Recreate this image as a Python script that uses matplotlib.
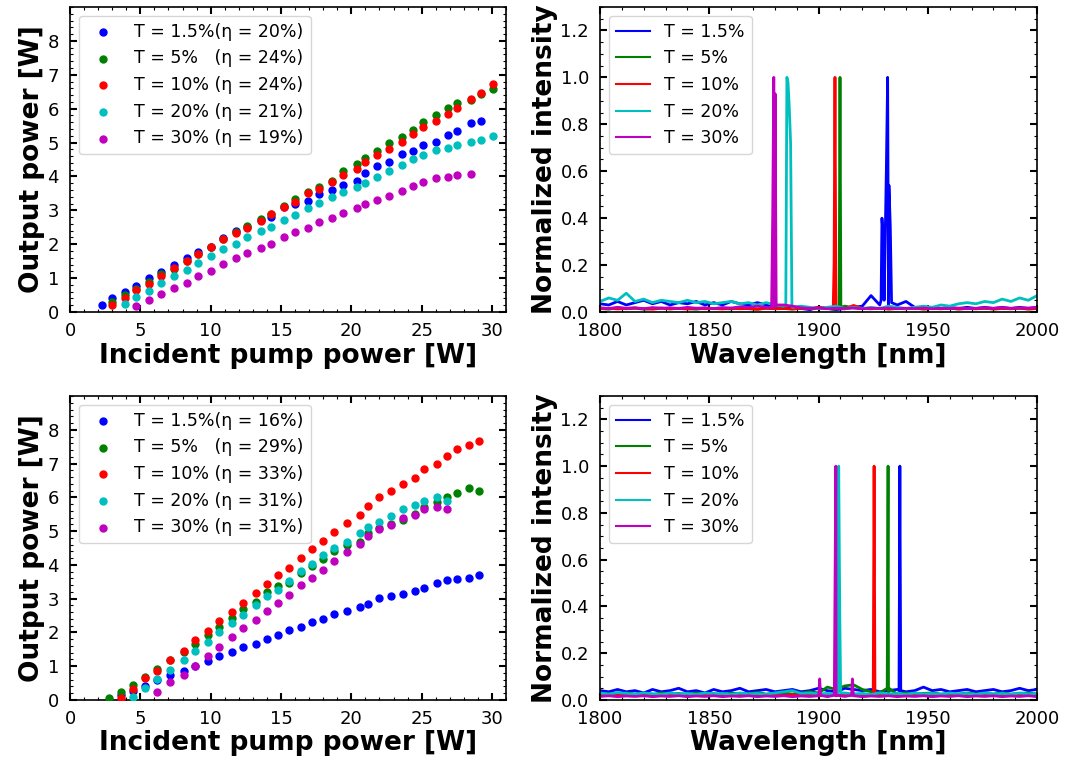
import numpy as np
import matplotlib
matplotlib.use('Agg')
import matplotlib.pyplot as plt

# ---------------- data: output power vs incident pump power ----------------
pump_top = [2.3, 3.0, 3.9, 4.7, 5.6, 6.5, 7.4, 8.3, 9.1, 10.0, 10.9, 11.8, 12.6, 13.6,
            14.3, 15.2, 16.0, 16.9, 17.7, 18.6, 19.4, 20.4, 21.0, 21.8, 22.7, 23.6,
            24.4, 25.1, 26.0, 26.9, 27.5, 28.5, 29.2, 30.1]
top_b = [0.20, 0.40, 0.59, 0.76, 0.99, 1.19, 1.38, 1.58, 1.78, 1.93, 2.17, 2.39, 2.52,
         2.72, 2.81, 3.11, 3.19, 3.28, 3.48, 3.60, 3.75, 3.87, 4.11, 4.31, 4.42, 4.66,
         4.74, 4.94, 5.02, 5.21, 5.33, 5.57, 5.65]
top_g = [0.30, 0.49, 0.69, 0.89, 1.12, 1.28, 1.51, 1.71, 1.93, 2.14, 2.37, 2.55, 2.74,
         2.89, 3.14, 3.33, 3.53, 3.68, 3.87, 4.15, 4.37, 4.55, 4.76, 4.99, 5.16, 5.38,
         5.62, 5.82, 6.01, 6.17, 6.25, 6.44, 6.59]
top_r = [0.20, 0.41, 0.64, 0.84, 1.06, 1.30, 1.50, 1.70, 1.93, 2.14, 2.32, 2.49, 2.70,
         2.88, 3.09, 3.24, 3.51, 3.64, 3.83, 4.03, 4.23, 4.42, 4.62, 4.82, 5.02, 5.26,
         5.45, 5.65, 5.85, 6.01, 6.29, 6.47, 6.72]
top_c = [0.23, 0.43, 0.62, 0.86, 1.06, 1.25, 1.45, 1.65, 1.85, 2.01, 2.20, 2.40, 2.52,
         2.72, 2.87, 3.07, 3.23, 3.39, 3.54, 3.70, 3.82, 3.98, 4.17, 4.34, 4.50, 4.62,
         4.77, 4.85, 4.93, 5.01, 5.09, 5.18]
top_m = [0.17, 0.35, 0.54, 0.71, 0.86, 1.06, 1.21, 1.41, 1.58, 1.73, 1.89, 2.00, 2.20,
         2.37, 2.48, 2.65, 2.76, 2.93, 3.08, 3.20, 3.31, 3.43, 3.58, 3.71, 3.83, 3.95,
         3.99, 4.03, 4.07]
# first pump index of each series
top_start = [0, 1, 1, 2, 3]

pump_bot = [2.8, 3.6, 4.5, 5.3, 6.2, 7.1, 8.1, 8.9, 9.8, 10.6, 11.5, 12.3, 13.2, 14.0,
            14.8, 15.6, 16.4, 17.2, 18.0, 18.8, 19.7, 20.6, 21.2, 22.0, 22.8, 23.7,
            24.5, 25.2, 26.1, 26.8, 27.5, 28.4, 29.1]
bot_b = [0.15, 0.28, 0.42, 0.58, 0.74, 0.86, 1.02, 1.14, 1.29, 1.41, 1.57, 1.65, 1.81,
         1.93, 2.08, 2.16, 2.32, 2.40, 2.56, 2.64, 2.76, 2.83, 3.03, 3.07, 3.15, 3.23,
         3.31, 3.47, 3.55, 3.59, 3.62, 3.70]
bot_g = [0.05, 0.23, 0.44, 0.69, 0.91, 1.17, 1.41, 1.66, 1.93, 2.17, 2.44, 2.69, 2.91,
         3.19, 3.36, 3.46, 3.77, 3.98, 4.18, 4.41, 4.59, 4.69, 4.94, 5.09, 5.20, 5.32,
         5.52, 5.70, 5.85, 6.00, 6.12, 6.28, 6.20]
bot_r = [0.05, 0.32, 0.66, 0.86, 1.18, 1.45, 1.78, 2.05, 2.33, 2.61, 2.88, 3.16, 3.44,
         3.71, 3.91, 4.19, 4.46, 4.70, 4.98, 5.25, 5.49, 5.73, 6.00, 6.20, 6.40, 6.56,
         6.83, 6.99, 7.23, 7.43, 7.55, 7.66]
bot_c = [0.08, 0.35, 0.62, 0.90, 1.18, 1.45, 1.73, 2.00, 2.28, 2.52, 2.80, 3.07, 3.27,
         3.51, 3.82, 4.02, 4.30, 4.49, 4.69, 4.93, 5.13, 5.28, 5.44, 5.64, 5.76, 5.88,
         6.00, 5.88]
bot_m = [0.23, 0.54, 0.74, 1.02, 1.29, 1.57, 1.85, 2.12, 2.36, 2.64, 2.87, 3.11, 3.39,
         3.62, 3.86, 4.10, 4.38, 4.61, 4.85, 5.05, 5.17, 5.40, 5.48, 5.64, 5.72, 5.64]
bot_start = [1, 0, 1, 2, 4]

labels_top = ['T = 1.5%(η = 20%)', 'T = 5%   (η = 24%)', 'T = 10% (η = 24%)',
              'T = 20% (η = 21%)', 'T = 30% (η = 19%)']
labels_bot = ['T = 1.5%(η = 16%)', 'T = 5%   (η = 29%)', 'T = 10% (η = 33%)',
              'T = 20% (η = 31%)', 'T = 30% (η = 31%)']
spec_labels = ['T = 1.5%', 'T = 5%', 'T = 10%', 'T = 20%', 'T = 30%']
colors = ['b', 'g', 'r', 'c', 'm']

# ---------------- data: spectra (baseline sampled every 4 nm + peak points) ----------------
wl_grid = list(range(1800, 2001, 4))

tr_base_b = [0.035, 0.030, 0.045, 0.030, 0.040, 0.050, 0.035, 0.045, 0.030, 0.040, 0.035,
             0.045, 0.030, 0.040, 0.030, 0.045, 0.035, 0.030, 0.040, 0.030, 0.020,
             0.015, 0.020, 0.015, 0.010, 0.020, 0.015, 0.010, 0.015, 0.020, 0.025,
             0.070, 0.030, 0.020, 0.030, 0.045, 0.020, 0.015, 0.020, 0.015, 0.020,
             0.015, 0.020, 0.015, 0.020, 0.015, 0.020, 0.015, 0.020, 0.015, 0.020]
tr_base_g = [0.015, 0.012, 0.018, 0.014, 0.016, 0.012, 0.015, 0.017, 0.013, 0.016, 0.014,
             0.012, 0.016, 0.014, 0.015, 0.013, 0.017, 0.014, 0.012, 0.016, 0.014,
             0.015, 0.013, 0.016, 0.014, 0.018, 0.015, 0.012, 0.025, 0.018, 0.015,
             0.014, 0.016, 0.013, 0.015, 0.014, 0.016, 0.013, 0.015, 0.014, 0.016,
             0.013, 0.015, 0.014, 0.016, 0.013, 0.015, 0.014, 0.016, 0.013, 0.015]
tr_base_r = [0.014, 0.016, 0.013, 0.015, 0.017, 0.014, 0.012, 0.016, 0.014, 0.015, 0.013,
             0.016, 0.014, 0.015, 0.013, 0.016, 0.014, 0.015, 0.012, 0.016, 0.014,
             0.015, 0.013, 0.016, 0.014, 0.020, 0.015, 0.014, 0.013, 0.028, 0.015,
             0.014, 0.016, 0.013, 0.015, 0.014, 0.016, 0.013, 0.015, 0.014, 0.016,
             0.013, 0.015, 0.014, 0.016, 0.013, 0.015, 0.014, 0.016, 0.013, 0.015]
tr_base_c = [0.045, 0.060, 0.050, 0.080, 0.045, 0.055, 0.040, 0.050, 0.045, 0.040, 0.050,
             0.040, 0.045, 0.035, 0.040, 0.045, 0.035, 0.040, 0.030, 0.040, 0.030,
             0.025, 0.020, 0.025, 0.020, 0.015, 0.020, 0.025, 0.015, 0.020, 0.015,
             0.020, 0.015, 0.025, 0.020, 0.015, 0.020, 0.025, 0.020, 0.030, 0.025,
             0.035, 0.040, 0.035, 0.045, 0.040, 0.055, 0.045, 0.060, 0.050, 0.070]
tr_base_m = [0.018, 0.015, 0.020, 0.016, 0.018, 0.014, 0.019, 0.016, 0.018, 0.015, 0.020,
             0.016, 0.018, 0.015, 0.019, 0.017, 0.022, 0.020, 0.025, 0.020, 0.018,
             0.030, 0.025, 0.018, 0.015, 0.017, 0.014, 0.016, 0.015, 0.017, 0.014,
             0.016, 0.015, 0.017, 0.014, 0.016, 0.015, 0.017, 0.014, 0.016, 0.015,
             0.017, 0.014, 0.016, 0.018, 0.016, 0.019, 0.016, 0.018, 0.017, 0.020]

tr_peak_wl = [[1928.6, 1929.0, 1929.5, 1930.0, 1931.0, 1931.6, 1932.2, 1932.8, 1933.4],
              [1909.4, 1909.8, 1910.2],
              [1906.7, 1907.1, 1907.5, 1907.9, 1908.3],
              [1885.0, 1885.5, 1886.0, 1886.6, 1887.2, 1887.8],
              [1878.5, 1879.0, 1879.5, 1880.1, 1880.6]]
tr_peak_val = [[0.05, 0.40, 0.33, 0.05, 0.60, 1.00, 0.54, 0.37, 0.04],
               [0.02, 1.00, 0.02],
               [0.02, 0.21, 1.00, 0.12, 0.02],
               [0.03, 1.00, 0.98, 0.87, 0.72, 0.03],
               [0.02, 0.41, 1.00, 0.93, 0.03]]

br_base_b = [0.040, 0.035, 0.045, 0.035, 0.040, 0.030, 0.045, 0.035, 0.040, 0.050, 0.035,
             0.040, 0.030, 0.045, 0.035, 0.040, 0.050, 0.035, 0.040, 0.045, 0.035,
             0.040, 0.045, 0.035, 0.040, 0.050, 0.040, 0.035, 0.050, 0.045, 0.040,
             0.045, 0.035, 0.040, 0.045, 0.035, 0.040, 0.055, 0.040, 0.045, 0.035,
             0.040, 0.045, 0.035, 0.040, 0.045, 0.035, 0.040, 0.050, 0.040, 0.045]
br_base_g = [0.025, 0.028, 0.022, 0.030, 0.025, 0.027, 0.022, 0.030, 0.025, 0.028, 0.022,
             0.030, 0.025, 0.027, 0.022, 0.030, 0.025, 0.027, 0.032, 0.025, 0.028,
             0.030, 0.025, 0.030, 0.035, 0.030, 0.055, 0.045, 0.060, 0.065, 0.045,
             0.035, 0.030, 0.028, 0.025, 0.030, 0.025, 0.028, 0.030, 0.025, 0.028,
             0.025, 0.030, 0.025, 0.028, 0.025, 0.030, 0.025, 0.028, 0.030, 0.025]
br_base_r = [0.020, 0.018, 0.022, 0.019, 0.021, 0.018, 0.020, 0.022, 0.019, 0.021, 0.018,
             0.020, 0.022, 0.019, 0.021, 0.018, 0.020, 0.022, 0.019, 0.021, 0.018,
             0.020, 0.022, 0.019, 0.021, 0.018, 0.020, 0.022, 0.019, 0.021, 0.018,
             0.020, 0.022, 0.019, 0.021, 0.018, 0.020, 0.022, 0.019, 0.021, 0.018,
             0.020, 0.022, 0.019, 0.021, 0.018, 0.020, 0.022, 0.019, 0.021, 0.018]
br_base_c = [0.030, 0.025, 0.032, 0.028, 0.025, 0.030, 0.027, 0.024, 0.030, 0.026, 0.028,
             0.024, 0.030, 0.026, 0.028, 0.024, 0.030, 0.026, 0.028, 0.024, 0.030,
             0.035, 0.040, 0.028, 0.030, 0.026, 0.028, 0.024, 0.030, 0.026, 0.028,
             0.024, 0.030, 0.026, 0.028, 0.024, 0.030, 0.026, 0.028, 0.024, 0.030,
             0.026, 0.028, 0.024, 0.030, 0.026, 0.028, 0.024, 0.030, 0.026, 0.028]
br_base_m = [0.015, 0.018, 0.014, 0.017, 0.015, 0.018, 0.014, 0.017, 0.015, 0.018, 0.014,
             0.017, 0.015, 0.018, 0.014, 0.017, 0.015, 0.018, 0.014, 0.017, 0.015,
             0.018, 0.014, 0.017, 0.015, 0.018, 0.014, 0.017, 0.015, 0.018, 0.014,
             0.017, 0.015, 0.018, 0.014, 0.017, 0.015, 0.018, 0.014, 0.017, 0.015,
             0.018, 0.014, 0.017, 0.015, 0.018, 0.014, 0.017, 0.015, 0.018, 0.014]

br_peak_wl = [[1936.8, 1937.2, 1937.6],
              [1931.4, 1931.8, 1932.2],
              [1925.0, 1925.4, 1925.8],
              [1908.8, 1909.2, 1909.7, 1910.1],
              [1900.1, 1900.5, 1900.9, 1907.2, 1907.6, 1907.9, 1908.3, 1915.1, 1915.5, 1915.9]]
br_peak_val = [[0.04, 1.00, 0.04],
               [0.05, 1.00, 0.05],
               [0.02, 1.00, 0.02],
               [0.03, 1.00, 0.37, 0.03],
               [0.02, 0.09, 0.02, 0.02, 0.60, 1.00, 0.02, 0.02, 0.09, 0.02]]

tr_bases = [tr_base_b, tr_base_g, tr_base_r, tr_base_c, tr_base_m]
br_bases = [br_base_b, br_base_g, br_base_r, br_base_c, br_base_m]

# ---------------- styling ----------------
plt.rcParams['font.family'] = 'DejaVu Sans'
plt.rcParams['xtick.direction'] = 'in'
plt.rcParams['ytick.direction'] = 'in'
plt.rcParams['xtick.top'] = True
plt.rcParams['ytick.right'] = True
plt.rcParams['xtick.minor.visible'] = True
plt.rcParams['ytick.minor.visible'] = True
plt.rcParams['xtick.major.size'] = 5
plt.rcParams['ytick.major.size'] = 5
plt.rcParams['xtick.major.width'] = 1.5
plt.rcParams['ytick.major.width'] = 1.5
plt.rcParams['xtick.minor.size'] = 2.5
plt.rcParams['ytick.minor.size'] = 2.5
plt.rcParams['xtick.minor.width'] = 0.8
plt.rcParams['ytick.minor.width'] = 0.8
plt.rcParams['xtick.major.pad'] = 7
plt.rcParams['ytick.major.pad'] = 8
plt.rcParams['axes.linewidth'] = 1.2

fig = plt.figure(figsize=(10.66, 7.67), dpi=100)
ax_tl = fig.add_axes([0.0657, 0.5932, 0.409, 0.3977])
ax_tr = fig.add_axes([0.5629, 0.5932, 0.410, 0.3977])
ax_bl = fig.add_axes([0.0657, 0.0874, 0.409, 0.3963])
ax_br = fig.add_axes([0.5629, 0.0874, 0.410, 0.3963])


def power_panel(ax, pump, series, starts, labels):
    for vals, s, c, lab in zip(series, starts, colors, labels):
        ax.scatter(pump[s:s + len(vals)], vals, s=25, color=c, label=lab, zorder=3)
    ax.set_xlim(0, 31)
    ax.set_ylim(0, 9)
    ax.set_xticks([0, 5, 10, 15, 20, 25, 30])
    ax.set_yticks(range(0, 9))
    ax.tick_params(labelsize=13)
    ax.set_xlabel('Incident pump power [W]', fontsize=19, fontweight='bold', labelpad=2)
    ax.set_ylabel('Output power [W]', fontsize=19, fontweight='bold', labelpad=2)
    ax.legend(loc='upper left', fontsize=12.5, scatterpoints=1)


def spectrum_panel(ax, bases, peak_wl, peak_val):
    for base, pw, pv, c, lab in zip(bases, peak_wl, peak_val, colors, spec_labels):
        wl = np.array(wl_grid + pw, dtype=float)
        val = np.array(base + pv, dtype=float)
        order = np.argsort(wl)
        ax.plot(wl[order], val[order], color=c, lw=2, label=lab)
    ax.set_xlim(1800, 2000)
    ax.set_ylim(0, 1.3)
    ax.set_xticks([1800, 1850, 1900, 1950, 2000])
    ax.set_yticks([0.0, 0.2, 0.4, 0.6, 0.8, 1.0, 1.2])
    ax.tick_params(labelsize=13)
    ax.set_xlabel('Wavelength [nm]', fontsize=19, fontweight='bold', labelpad=2)
    ax.set_ylabel('Normalized intensity', fontsize=19, fontweight='bold', labelpad=2)
    leg = ax.legend(loc='upper left', fontsize=12.5)
    for line in leg.get_lines():
        line.set_linewidth(1.5)


power_panel(ax_tl, pump_top, [top_b, top_g, top_r, top_c, top_m], top_start, labels_top)
power_panel(ax_bl, pump_bot, [bot_b, bot_g, bot_r, bot_c, bot_m], bot_start, labels_bot)
spectrum_panel(ax_tr, tr_bases, tr_peak_wl, tr_peak_val)
spectrum_panel(ax_br, br_bases, br_peak_wl, br_peak_val)

fig.savefig('out.png', dpi=100)
plt.close(fig)
